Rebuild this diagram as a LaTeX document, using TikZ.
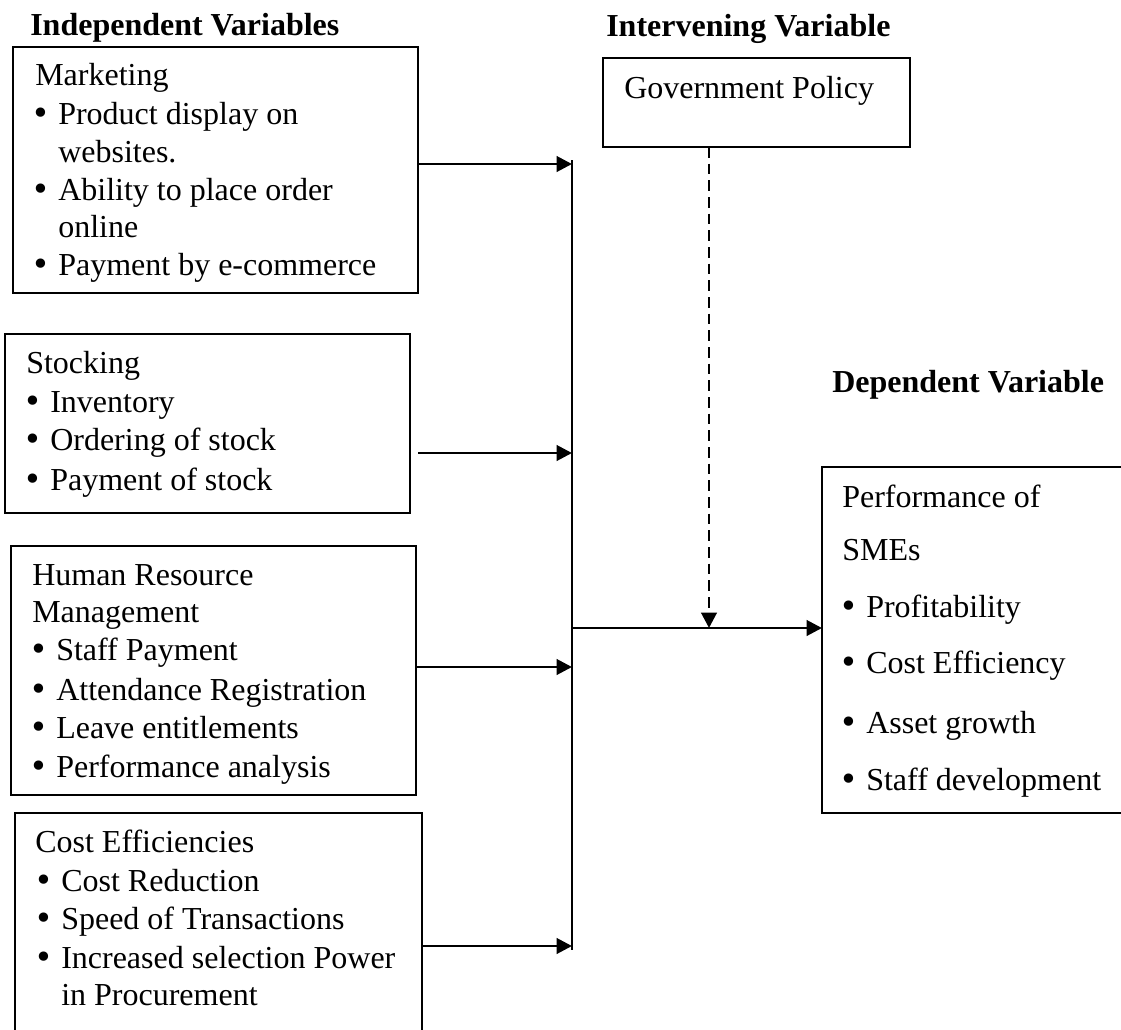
\documentclass[tikz,border=0pt]{standalone}
\usepackage{fontspec}
\setmainfont{Liberation Serif}
\newfontfamily\bulfont{DejaVu Sans}
\usetikzlibrary{arrows.meta}
\newcommand{\bul}[4]{\node[bulnode] (#1b) at ({#2+6},#3) {•}; \node[txt] (#1) at ({#2+23},#3) {#4};}
\begin{document}
\begin{tikzpicture}[x=0.75pt,y=-0.75pt,
  txt/.style={anchor=base west, inner sep=0pt, font=\fontsize{24}{28}\selectfont},
  bulnode/.style={anchor=base, inner sep=0pt, font=\bulfont\fontsize{24}{28}\selectfont},
  head/.style={anchor=base west, inner sep=0pt, font=\fontsize{24}{28}\selectfont\bfseries},
  boxframe/.style={draw, line width=1.4pt, rectangle, inner sep=0pt, outer sep=0pt, anchor=north west},
  link/.style={line width=2.2pt, -{Triangle[length=11.5pt,width=11.5pt]}},
  dlink/.style={link, dash pattern=on 8pt off 4.5pt},
  busline/.style={line width=1.5pt}]
\useasboundingbox (0,0) rectangle (1121,1029);

% headings
\node[head] (hind) at (30,35) {Independent Variables};
\node[head] (hint) at (606,36) {Intervening Variable};
\node[head] (hdep) at (832,392) {Dependent Variable};

% boxes
\node[boxframe, minimum width=303.75pt, minimum height=184.5pt] (mkt) at (13,47) {};
\node[boxframe, minimum width=230.25pt, minimum height=66.75pt] (gov) at (603,58) {};
\node[boxframe, minimum width=303.75pt, minimum height=134.25pt] (stk) at (5,334) {};
\node[boxframe, minimum width=303.75pt, minimum height=186.75pt] (hr) at (11,546) {};
\node[boxframe, minimum width=305.25pt, minimum height=187.5pt] (ce) at (15,813) {};
\node[boxframe, minimum width=238.5pt, minimum height=259.5pt] (perf) at (822,467) {};

% marketing text
\node[txt] (mk0) at (35,85) {Marketing};
\bul{mk1}{35}{124}{Product display on}
\node[txt] (mk1c) at (58,162) {websites.};
\bul{mk2}{35}{200}{Ability to place order}
\node[txt] (mk2c) at (58,237) {online};
\bul{mk3}{35}{275}{Payment by e-commerce}

% government
\node[txt] (gv0) at (624,98) {Government Policy};

% stocking
\node[txt] (st0) at (26,373) {Stocking};
\bul{st1}{27}{412}{Inventory}
\bul{st2}{27}{450}{Ordering of stock}
\bul{st3}{27}{490}{Payment of stock}

% human resource
\node[txt] (hr0) at (32,585) {Human Resource};
\node[txt] (hr0c) at (32,622) {Management};
\bul{hr1}{33}{660}{Staff Payment}
\bul{hr2}{33}{700}{Attendance Registration}
\bul{hr3}{33}{738}{Leave entitlements}
\bul{hr4}{33}{777}{Performance analysis}

% cost efficiencies
\node[txt] (ce0) at (35,852) {Cost Efficiencies};
\bul{ce1}{38}{891}{Cost Reduction}
\bul{ce2}{38}{929}{Speed of Transactions}
\bul{ce3}{38}{968}{Increased selection Power}
\node[txt] (ce3c) at (61,1005) {in Procurement};

% performance
\node[txt] (pf0) at (842,507) {Performance of};
\node[txt] (pf0c) at (842,560) {SMEs};
\bul{pf1}{843}{617}{Profitability}
\bul{pf2}{843}{673}{Cost Efficiency}
\bul{pf3}{843}{733}{Asset growth}
\bul{pf4}{843}{790}{Staff development}

% connectors
\coordinate (btop) at (572,160);
\coordinate (bbot) at (572,950);
\coordinate (b1) at (572,164);
\coordinate (b2) at (572,453);
\coordinate (b3) at (572,667);
\coordinate (b4) at (572,946);
\coordinate (bj) at (572,628);
\coordinate (s1) at (418,453);
\coordinate (dt) at (709,628);

\draw[busline] (btop) -- (bbot);
\draw[link] (mkt.east |- b1) -- (b1);
\draw[link] (s1) -- (b2);
\draw[link] (hr.east |- b3) -- (b3);
\draw[link] (ce.east |- b4) -- (b4);
\draw[link] (bj) -- (perf.west |- bj);
\draw[dlink] (dt |- gov.south) -- (dt);
\end{tikzpicture}
\end{document}
